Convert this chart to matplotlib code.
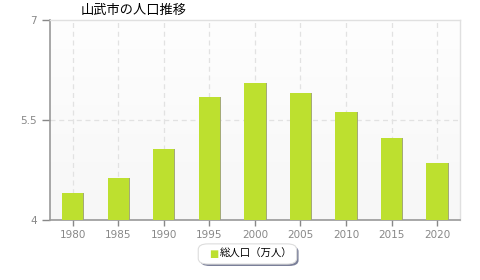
import matplotlib.pyplot as plt
import numpy as np
from matplotlib.patches import FancyBboxPatch

plt.rcParams['font.family'] = ['Noto Sans CJK JP', 'DejaVu Sans']

years = ['1980', '1985', '1990', '1995', '2000', '2005', '2010', '2015', '2020']
pop = [4.40, 4.63, 5.07, 5.84, 6.06, 5.90, 5.62, 5.23, 4.85]
yticks = [4, 5.5, 7]
ytick_labels = ['4', '5.5', '7']

fig = plt.figure(figsize=(4.8, 2.8), dpi=100)
ax = fig.add_axes([0.104, 0.214, 0.854, 0.715])

# light gradient background
grad = np.linspace(0, 1, 100).reshape(-1, 1)
ax.imshow(grad, extent=[-0.5, 8.5, 4, 7], aspect='auto', cmap=plt.matplotlib.colors.LinearSegmentedColormap.from_list('g', ['#f7f7f7', '#fefefe']), origin='lower', zorder=0)

x = np.arange(len(years))
for xi in x:
    ax.axvline(xi, color='#e2e2e2', ls=(0, (4, 3)), lw=0.9, zorder=1)
ax.axhline(5.5, color='#e2e2e2', ls=(0, (4, 3)), lw=0.9, zorder=1)

# thin shadow then bar
ax.bar(x + 0.012, [p - 4 for p in pop], bottom=4, width=0.49, color='#a4aa78', zorder=2)
ax.bar(x, [p - 4 for p in pop], bottom=4, width=0.47, color='#bde02f', zorder=3)

ax.set_xlim(-0.5, 8.5)
ax.set_ylim(4, 7)
ax.set_xticks(x)
ax.set_xticklabels(years)
ax.set_yticks(yticks)
ax.set_yticklabels(ytick_labels)
ax.tick_params(colors='#888888', labelsize=7.5, length=4, width=1)
ax.tick_params(axis='y', length=6)
for lab in ax.get_xticklabels() + ax.get_yticklabels():
    lab.set_family('DejaVu Sans')
for s in ['left', 'bottom']:
    ax.spines[s].set_color('#999999')
    ax.spines[s].set_linewidth(1.2)
for s in ['top', 'right']:
    ax.spines[s].set_color('#e0e0e0')
    ax.spines[s].set_linewidth(1)

fig.text(0.167, 0.962, '山武市の人口推移', fontsize=9.5, ha='left', va='center')

# legend box with shadow
shadow = FancyBboxPatch((0.417, 0.05), 0.205, 0.072, boxstyle='round,pad=0,rounding_size=0.02',
                        transform=fig.transFigure, facecolor='#7a7f99', edgecolor='none')
box = FancyBboxPatch((0.413, 0.057), 0.205, 0.072, boxstyle='round,pad=0,rounding_size=0.02',
                     transform=fig.transFigure, facecolor='white', edgecolor='#dddddd', lw=0.8)
fig.patches.extend([shadow, box])
fig.text(0.435, 0.093, '■', color='#bde02f', fontsize=7, ha='left', va='center', family='DejaVu Sans')
fig.text(0.458, 0.093, '総人口（万人）', fontsize=7.5, ha='left', va='center')

fig.savefig('out.png', dpi=100)
